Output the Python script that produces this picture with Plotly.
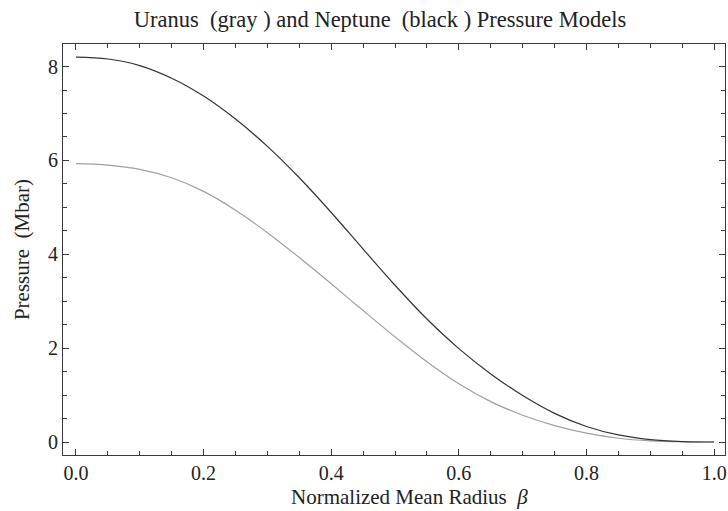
import plotly.graph_objects as go

# Normalized mean radius samples
beta = [0.00, 0.05, 0.10, 0.15, 0.20, 0.25, 0.30, 0.35, 0.40, 0.45, 0.50,
        0.55, 0.60, 0.65, 0.70, 0.75, 0.80, 0.85, 0.90, 0.95, 1.00]

# Pressure (Mbar) for each model
neptune_p = [8.20, 8.16, 8.02, 7.75, 7.37, 6.88, 6.30, 5.63, 4.89, 4.11, 3.34,
             2.62, 1.99, 1.45, 0.99, 0.61, 0.33, 0.15, 0.05, 0.01, 0.00]
uranus_p = [5.93, 5.90, 5.81, 5.63, 5.34, 4.94, 4.46, 3.93, 3.37, 2.80, 2.24,
            1.71, 1.24, 0.86, 0.57, 0.35, 0.19, 0.08, 0.025, 0.005, 0.00]

x_ticks = [0.0, 0.2, 0.4, 0.6, 0.8, 1.0]
x_tick_text = ["0.0", "0.2", "0.4", "0.6", "0.8", "1.0"]
y_ticks = [0, 2, 4, 6, 8]

SERIF = "Liberation Serif, Times New Roman, serif"
FRAME = "#3a3a3a"
TEXT = "#222222"

fig = go.Figure()
fig.add_trace(go.Scatter(x=beta, y=uranus_p, mode="lines",
                         line=dict(color="#a0a0a0", width=1.2, shape="spline", smoothing=1.0),
                         showlegend=False, hoverinfo="skip"))
fig.add_trace(go.Scatter(x=beta, y=neptune_p, mode="lines",
                         line=dict(color="#333333", width=1.2, shape="spline", smoothing=1.0),
                         showlegend=False, hoverinfo="skip"))

axis_common = dict(
    showline=True, linecolor=FRAME, linewidth=1, mirror="allticks",
    ticks="inside", ticklen=6, tickwidth=1, tickcolor=FRAME,
    showgrid=False, zeroline=False, ticklabeloverflow="allow",
    tickfont=dict(family=SERIF, size=20, color=TEXT),
)

fig.update_xaxes(
    range=[-0.0203, 1.017], tickvals=x_ticks, ticktext=x_tick_text,
    minor=dict(dtick=0.05, ticks="inside", ticklen=4, tickcolor=FRAME, showgrid=False),
    **axis_common,
)
fig.update_yaxes(
    range=[-0.277, 8.48], tickvals=y_ticks,
    minor=dict(dtick=0.5, ticks="inside", ticklen=4, tickcolor=FRAME, showgrid=False),
    title=dict(text="Pressure  (Mbar)", standoff=12,
               font=dict(family=SERIF, size=21, color=TEXT)),
    **axis_common,
)

# x-axis caption placed slightly right of centre, as an annotation
fig.add_annotation(text="Normalized Mean Radius  <i>β</i>", showarrow=False,
                   xref="paper", yref="paper", x=0.524, y=-0.102,
                   xanchor="center", yanchor="middle",
                   font=dict(family=SERIF, size=21, color=TEXT))

fig.update_layout(
    width=728, height=511,
    margin=dict(l=63, r=1, t=44, b=56),
    paper_bgcolor="white", plot_bgcolor="white",
    title=dict(text="Uranus  (gray ) and Neptune  (black ) Pressure Models",
               font=dict(family=SERIF, size=22.5, color=TEXT),
               x=0.522, xref="container", xanchor="center",
               y=0.962, yref="container", yanchor="middle"),
)

fig.write_html("out.html")
